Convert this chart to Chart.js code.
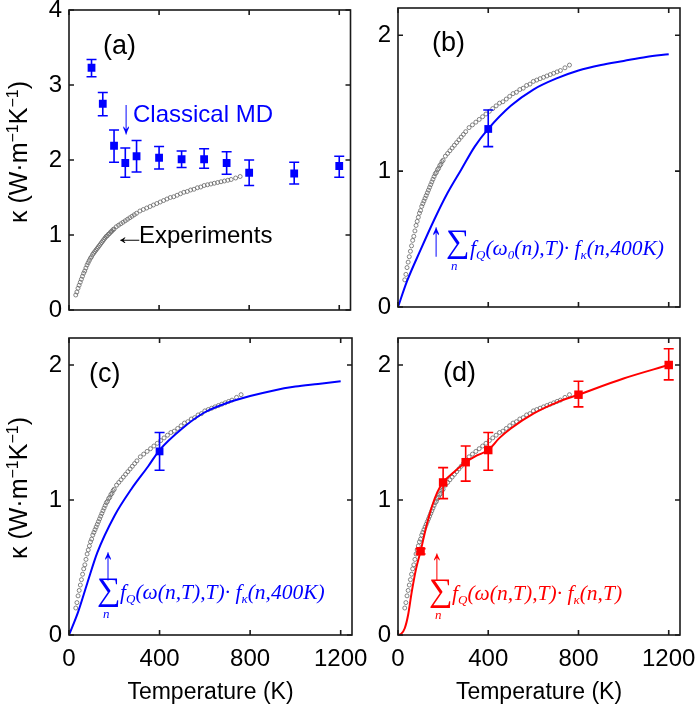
<!DOCTYPE html>
<html>
<head>
<meta charset="utf-8">
<script src="https://cdn.jsdelivr.net/npm/chart.js@4.4.1/dist/chart.umd.min.js"></script>
<style>
    body { margin: 0; background: #fff; width: 697px; height: 708px; position: relative; overflow: hidden;
           font-family: "Liberation Sans", Arial, sans-serif; }
    canvas { position: absolute; }
    .note { position: absolute; white-space: nowrap; line-height: 1; }
    .lbl { font-size: 27px; color: #000; }
    .sans { font-size: 24px; }
    .fx { font: italic 21.5px "Liberation Serif", "DejaVu Serif", serif; }
    .fx sub { font-size: 13px; vertical-align: -4px; line-height: 0; }
    .sum { font: 33px "Liberation Serif", "DejaVu Serif", serif; }
    .nn { font: italic 13px "Liberation Serif", serif; }
    .arrow { position: absolute; width: 20px; height: 24px; line-height: 24px; text-align: center;
             font-size: 24px; font-family: "Liberation Sans", Arial, sans-serif; }
    .ytitle { position: absolute; width: 200px; height: 30px; line-height: 30px; text-align: center;
              font-size: 25px; color: #000; transform: rotate(-90deg); white-space: nowrap; }
    .ytitle sup { font-size: 16px; vertical-align: 9px; line-height: 0; }
    .blue { color: #0000ff; }
    .red { color: #ff0000; }
</style>
</head>
<body>
<canvas id="chartA" width="356" height="318" style="left:0;top:0"></canvas>
<canvas id="chartB" width="357" height="318" style="left:340px;top:0"></canvas>
<canvas id="chartC" width="372" height="388" style="left:0;top:320px"></canvas>
<canvas id="chartD" width="357" height="388" style="left:340px;top:320px"></canvas>

<!-- y axis titles -->
<div class="ytitle" style="left:-82px;top:137px">κ (W·m<sup>−1</sup>K<sup>−1</sup>)</div>
<div class="ytitle" style="left:-82px;top:473px">κ (W·m<sup>−1</sup>K<sup>−1</sup>)</div>

<!-- panel labels -->
<div class="note lbl" style="left:103px;top:32px">(a)</div>
<div class="note lbl" style="left:432px;top:29px">(b)</div>
<div class="note lbl" style="left:89px;top:360px">(c)</div>
<div class="note lbl" style="left:443px;top:359px">(d)</div>

<!-- (a) annotations -->
<div class="arrow blue" style="left:116px;top:104px;transform:scale(1,2.1)">↓</div>
<div class="note sans blue" style="left:133px;top:102px">Classical MD</div>
<div class="arrow" style="left:117px;top:224px;width:20px;transform:scale(1.35,1)">←</div>
<div class="note sans" style="left:139px;top:223px">Experiments</div>

<!-- (b) formula -->
<div class="arrow blue" style="left:426px;top:226px;transform:scale(1,2.1)">↑</div>
<div class="note sum blue" style="left:446px;top:223px">∑</div>
<div class="note nn blue" style="left:451px;top:258px">n</div>
<div class="note fx blue" style="left:470px;top:236px"><i>f</i><sub>Q</sub>(<i>ω</i><sub>0</sub>(<i>n</i>),<i>T</i>)· <i>f</i><sub>κ</sub>(<i>n</i>,400<i>K</i>)</div>

<!-- (c) formula -->
<div class="arrow blue" style="left:98px;top:551px;transform:scale(1,2)">↑</div>
<div class="note sum blue" style="left:97px;top:571px">∑</div>
<div class="note nn blue" style="left:103px;top:606px">n</div>
<div class="note fx blue" style="left:120px;top:580px"><i>f</i><sub>Q</sub>(<i>ω</i>(<i>n</i>,<i>T</i>),<i>T</i>)· <i>f</i><sub>κ</sub>(<i>n</i>,400<i>K</i>)</div>

<!-- (d) formula -->
<div class="arrow red" style="left:427px;top:552px;transform:scale(1,1.9)">↑</div>
<div class="note sum red" style="left:429px;top:572px">∑</div>
<div class="note nn red" style="left:435px;top:607px">n</div>
<div class="note fx red" style="left:452px;top:581px"><i>f</i><sub>Q</sub>(<i>ω</i>(<i>n</i>,<i>T</i>),<i>T</i>)· <i>f</i><sub>κ</sub>(<i>n</i>,<i>T</i>)</div>

<script>
// ---- tick labels ----
const tempTicks = [0, 400, 800, 1200];
const kappaTicksA = [0, 1, 2, 3, 4];
const kappaTicks = [0, 1, 2];

// ---- experiments (open circles, same in all panels) ----
const expT = [30, 35, 40, 45, 50, 55, 60, 65, 70, 75, 80, 85, 90, 95, 100, 105, 110, 115, 120, 125,
              130, 135, 140, 145, 150, 155, 160, 165, 170, 175, 180, 185, 190, 195, 200, 210, 220, 230,
              240, 250, 260, 270, 280, 290, 300, 315, 330, 345, 360, 375, 390, 405, 420, 435, 450, 465,
              480, 495, 510, 525, 540, 555, 570, 585, 600, 615, 630, 645, 660, 675, 690, 705, 720, 740, 760];
const expK = [0.20, 0.24, 0.29, 0.33, 0.37, 0.41, 0.45, 0.49, 0.52, 0.56, 0.60, 0.63, 0.66, 0.69, 0.71, 0.74,
              0.76, 0.78, 0.80, 0.82, 0.84, 0.86, 0.88, 0.90, 0.92, 0.94, 0.96, 0.98, 0.99, 1.01, 1.02, 1.04,
              1.05, 1.07, 1.08, 1.11, 1.13, 1.15, 1.17, 1.19, 1.21, 1.23, 1.25, 1.27, 1.29, 1.32, 1.34, 1.36,
              1.38, 1.40, 1.42, 1.44, 1.46, 1.48, 1.50, 1.51, 1.53, 1.55, 1.57, 1.58, 1.60, 1.61, 1.63, 1.64,
              1.66, 1.67, 1.68, 1.69, 1.70, 1.71, 1.72, 1.73, 1.74, 1.76, 1.78];

// ---- (a) classical MD ----
const mdT = [100, 150, 200, 250, 300, 400, 500, 600, 700, 800, 1000, 1200];
const mdK = [3.23, 2.75, 2.19, 1.96, 2.05, 2.03, 2.01, 2.01, 1.96, 1.83, 1.82, 1.92];
const mdLo = [3.11, 2.59, 1.97, 1.77, 1.84, 1.88, 1.90, 1.89, 1.81, 1.66, 1.68, 1.77];
const mdHi = [3.34, 2.90, 2.40, 2.16, 2.26, 2.18, 2.12, 2.15, 2.11, 2.00, 1.97, 2.05];

// ---- (b) ----
const fitBT = [0, 40, 100, 160, 220, 280, 340, 400, 500, 600, 700, 800, 900, 1000, 1100, 1200];
const fitBK = [0, 0.19, 0.42, 0.64, 0.84, 1.01, 1.18, 1.31, 1.48, 1.60, 1.68, 1.74, 1.78, 1.81, 1.84, 1.86];
const ptBT = [400], ptBK = [1.31], ptBLo = [1.18], ptBHi = [1.45];

// ---- (c) ----
const fitCT = [0, 40, 80, 125, 200, 275, 350, 400, 500, 600, 700, 800, 900, 1000, 1100, 1200];
const fitCK = [0, 0.17, 0.38, 0.61, 0.88, 1.08, 1.25, 1.37, 1.53, 1.65, 1.72, 1.77, 1.81, 1.84, 1.86, 1.88];
const ptCT = [400], ptCK = [1.36], ptCLo = [1.22], ptCHi = [1.50];

// ---- (d) ----
const fitDT = [0, 15, 30, 45, 60, 80, 100, 125, 150, 175, 200, 250, 300, 350, 400, 450, 500, 600, 700, 800, 1000, 1200];
const fitDK = [0, 0.01, 0.05, 0.15, 0.31, 0.49, 0.62, 0.80, 0.95, 1.06, 1.13, 1.21, 1.28, 1.33, 1.37, 1.46, 1.53, 1.64, 1.72, 1.78, 1.90, 2.00];
const ptDT = [100, 200, 300, 400, 800, 1200];
const ptDK = [0.62, 1.13, 1.28, 1.37, 1.78, 2.00];
const ptDLo = [0.60, 1.01, 1.14, 1.22, 1.69, 1.89];
const ptDHi = [0.64, 1.24, 1.40, 1.50, 1.88, 2.12];

const BLUE = '#0000ff';
const RED = '#ff0000';

function pts(xs, ys) {
    return xs.map((x, i) => ({ x: x, y: ys[i] }));
}

// box with inward ticks on all four sides (matlab look)
const framePlugin = {
    id: 'frame',
    afterDraw(chart) {
        const { ctx, chartArea: a, scales: { x, y } } = chart;
        ctx.save();
        ctx.strokeStyle = '#1a1a1a';
        ctx.lineWidth = 1.6;
        ctx.strokeRect(a.left, a.top, a.right - a.left, a.bottom - a.top);
        ctx.beginPath();
        x.ticks.forEach(t => {
            const px = x.getPixelForValue(t.value);
            ctx.moveTo(px, a.bottom); ctx.lineTo(px, a.bottom - 5);
            ctx.moveTo(px, a.top); ctx.lineTo(px, a.top + 5);
        });
        y.ticks.forEach(t => {
            const py = y.getPixelForValue(t.value);
            ctx.moveTo(a.left, py); ctx.lineTo(a.left + 5, py);
            ctx.moveTo(a.right, py); ctx.lineTo(a.right - 5, py);
        });
        ctx.stroke();
        ctx.restore();
    }
};

const errorBarPlugin = {
    id: 'errorBars',
    afterDatasetsDraw(chart) {
        const { ctx, scales: { x, y } } = chart;
        chart.data.datasets.forEach(ds => {
            if (!ds.errLo) return;
            ctx.save();
            ctx.strokeStyle = ds.borderColor;
            ctx.lineWidth = 1.6;
            ds.data.forEach((p, i) => {
                const px = x.getPixelForValue(p.x);
                const lo = y.getPixelForValue(ds.errLo[i]);
                const hi = y.getPixelForValue(ds.errHi[i]);
                ctx.beginPath();
                ctx.moveTo(px, lo); ctx.lineTo(px, hi);
                ctx.moveTo(px - 5, lo); ctx.lineTo(px + 5, lo);
                ctx.moveTo(px - 5, hi); ctx.lineTo(px + 5, hi);
                ctx.stroke();
            });
            ctx.restore();
        });
    }
};

function expDataset() {
    return {
        data: pts(expT, expK),
        showLine: false,
        pointStyle: 'circle',
        pointRadius: 2,
        pointBorderWidth: 0.8,
        pointBorderColor: '#666',
        pointBackgroundColor: 'rgba(0,0,0,0)',
        order: 3
    };
}

function curveDataset(xs, ys, color) {
    return {
        data: pts(xs, ys),
        showLine: true,
        borderColor: color,
        borderWidth: 2,
        pointRadius: 0,
        cubicInterpolationMode: 'monotone',
        order: 2
    };
}

function pointDataset(xs, ys, lo, hi, color, r) {
    return {
        data: pts(xs, ys),
        showLine: false,
        pointStyle: 'rect',
        pointRadius: r,
        pointBackgroundColor: color,
        pointBorderColor: color,
        pointBorderWidth: 0,
        borderColor: color,
        errLo: lo,
        errHi: hi,
        order: 1
    };
}

function zeroPad(s) {
    s.paddingTop = 0; s.paddingBottom = 0; s.paddingLeft = 0; s.paddingRight = 0;
}

function makePanel(id, cfg) {
    const tickFont = { family: '"Liberation Sans", Arial, sans-serif', size: 24 };
    const titleFont = { family: '"Liberation Sans", Arial, sans-serif', size: 23 };
    new Chart(document.getElementById(id), {
        type: 'scatter',
        data: { datasets: cfg.datasets },
        options: {
            responsive: false,
            animation: false,
            devicePixelRatio: 1,
            layout: { padding: { top: cfg.padTop, right: cfg.padRight, left: 0, bottom: 0 } },
            plugins: { legend: { display: false }, tooltip: { enabled: false } },
            scales: {
                x: {
                    type: 'linear',
                    min: 0,
                    max: 1250,
                    afterBuildTicks: s => { s.ticks = tempTicks.map(v => ({ value: v })); },
                    grid: { display: false, drawTicks: false },
                    border: { display: false },
                    ticks: { display: cfg.showX, padding: 10, color: '#000', font: tickFont,
                             callback: v => String(v) },
                    title: { display: cfg.showX, text: 'Temperature (K)', color: '#000', font: titleFont,
                             padding: { top: 0, bottom: 2 } },
                    afterFit: s => { s.height = cfg.xHeight; zeroPad(s); }
                },
                y: {
                    type: 'linear',
                    min: 0,
                    max: cfg.yMax,
                    afterBuildTicks: s => { s.ticks = cfg.yTicks.map(v => ({ value: v })); },
                    grid: { display: false, drawTicks: false },
                    border: { display: false },
                    ticks: { padding: 7, color: '#000', font: tickFont, callback: v => String(v) },
                    afterFit: s => { s.width = cfg.yWidth; zeroPad(s); }
                }
            }
        },
        plugins: [framePlugin, errorBarPlugin]
    });
}

makePanel('chartA', {
    yMax: 4, yTicks: kappaTicksA, showX: false,
    padTop: 10, padRight: 4, xHeight: 8, yWidth: 69,
    datasets: [expDataset(), pointDataset(mdT, mdK, mdLo, mdHi, BLUE, 5.5)]
});

makePanel('chartB', {
    yMax: 2.2, yTicks: kappaTicks, showX: false,
    padTop: 8, padRight: 17, xHeight: 11, yWidth: 58,
    datasets: [expDataset(), curveDataset(fitBT, fitBK, BLUE), pointDataset(ptBT, ptBK, ptBLo, ptBHi, BLUE, 5.5)]
});

makePanel('chartC', {
    yMax: 2.2, yTicks: kappaTicks, showX: true,
    padTop: 18, padRight: 20, xHeight: 73, yWidth: 69,
    datasets: [expDataset(), curveDataset(fitCT, fitCK, BLUE), pointDataset(ptCT, ptCK, ptCLo, ptCHi, BLUE, 5.5)]
});

makePanel('chartD', {
    yMax: 2.2, yTicks: kappaTicks, showX: true,
    padTop: 18, padRight: 17, xHeight: 73, yWidth: 58,
    datasets: [expDataset(), curveDataset(fitDT, fitDK, RED), pointDataset(ptDT, ptDK, ptDLo, ptDHi, RED, 6)]
});
</script>
</body>
</html>
